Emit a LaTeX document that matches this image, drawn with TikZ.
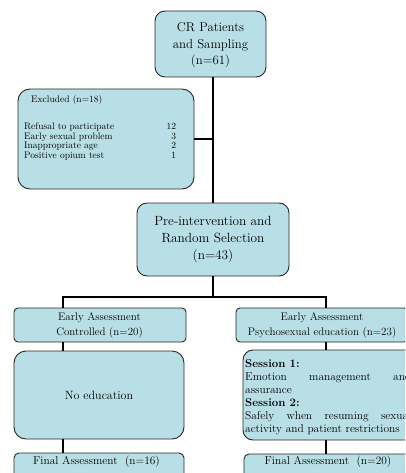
\documentclass[tikz,border=0pt]{standalone}
\definecolor{boxfill}{RGB}{185,223,230}
\definecolor{boxline}{RGB}{40,40,40}
\begin{document}
\begin{tikzpicture}[x=1pt,y=-1pt,
  flowbox/.style={draw=boxline, line width=0.9pt, fill=boxfill, rounded corners=#1,
    inner sep=0pt, outer sep=0pt, anchor=north west},
  flowbox/.default=10pt,
  link/.style={draw=black, line width=1.8pt},
  txt/.style={inner sep=0pt, align=center, font=\fontsize{11}{14.5}\selectfont},
  bigtxt/.style={txt, font=\fontsize{12.8}{16.5}\selectfont},
  smalltxt/.style={inner sep=0pt, font=\fontsize{9.5}{9.6}\selectfont}]
\useasboundingbox (0,0) rectangle (405,473);
\clip (0,0) rectangle (405,473);
\fill[white] (0,0) rectangle (405,473);

% boxes
\node[flowbox=10pt, minimum width=111pt, minimum height=66pt] (cr) at (155,11) {};
\node[flowbox=12pt, minimum width=176pt, minimum height=100pt] (excl) at (18,89) {};
\node[flowbox=10pt, minimum width=152pt, minimum height=73pt] (pre) at (137,203) {};
\node[flowbox=4pt, minimum width=172pt, minimum height=34pt] (earlyL) at (14,308) {};
\node[flowbox=4pt, minimum width=172pt, minimum height=34pt] (earlyR) at (236,308) {};
\node[flowbox=12pt, minimum width=170pt, minimum height=88pt] (noedu) at (14,351) {};
\node[flowbox=10pt, minimum width=175pt, minimum height=90pt] (sess) at (243,350) {};
\node[flowbox=5pt, minimum width=170pt, minimum height=40pt] (finL) at (14,453) {};
\node[flowbox=5pt, minimum width=170pt, minimum height=40pt] (finR) at (244,454) {};

% texts
\node[bigtxt] (crt) at (210.5,45.5) {CR Patients\\and Sampling\\(n=61)};
\node[bigtxt, font=\fontsize{13.3}{17}\selectfont] (pret) at (213,240) {Pre-intervention and\\Random Selection\\(n=43)};
\node[smalltxt, anchor=west] (exclt) at (31,100) {Excluded (n=18)};
\node[smalltxt, anchor=north west] (excll) at (24,122.5) {%
  \begin{tabular*}{152pt}{@{}l@{\extracolsep{\fill}}r@{}}
  Refusal to participate & 12\\
  Early sexual problem & 3\\
  Inappropriate age & 2\\
  Positive opium test & 1
  \end{tabular*}};
\node[txt] (earlyLt) at (99.5,325.5) {Early Assessment\\Controlled (n=20)};
\node[txt] (earlyRt) at (322,325.5) {Early Assessment\\Psychosexual education (n=23)};
\node[txt, font=\fontsize{12}{14}\selectfont] (noedut) at (99,395) {No education};
\node[txt, anchor=north west, align=justify, text width=166pt,
  font=\fontsize{11.4}{13.1}\selectfont] (sesst) at (245,359)
  {\textbf{Session 1:}\\
   Emotion management and\linebreak assurance\\
   \textbf{Session 2:}\\
   Safely when resuming sexual\linebreak activity and patient restrictions};
\node[txt, font=\fontsize{11.4}{14}\selectfont] (finLt) at (96.5,462) {Final Assessment\ \ (n=16)};
\node[txt, font=\fontsize{11.4}{14}\selectfont] (finRt) at (328,462) {Final Assessment\ \ (n=20)};

% connectors
\coordinate (lt) at (63,297);
\coordinate (rt) at (326,297);
\draw[link] (pre.north |- cr.south) -- (pre.north);
\draw[link] (excl.east) -- (excl.east -| pre.north);
\draw[link] (pre.south) -- (pre.south |- lt);
\draw[link] (earlyL.north -| lt) -- (lt) -- (rt) -- (earlyR.north -| rt);
\draw[link] (earlyL.south -| lt) -- (noedu.north -| lt);
\draw[link] (noedu.south -| lt) -- (finL.north -| lt);
\draw[link] (earlyR.south -| rt) -- (sess.north -| rt);
\draw[link] (sess.south -| rt) -- (finR.north -| rt);
\end{tikzpicture}
\end{document}
